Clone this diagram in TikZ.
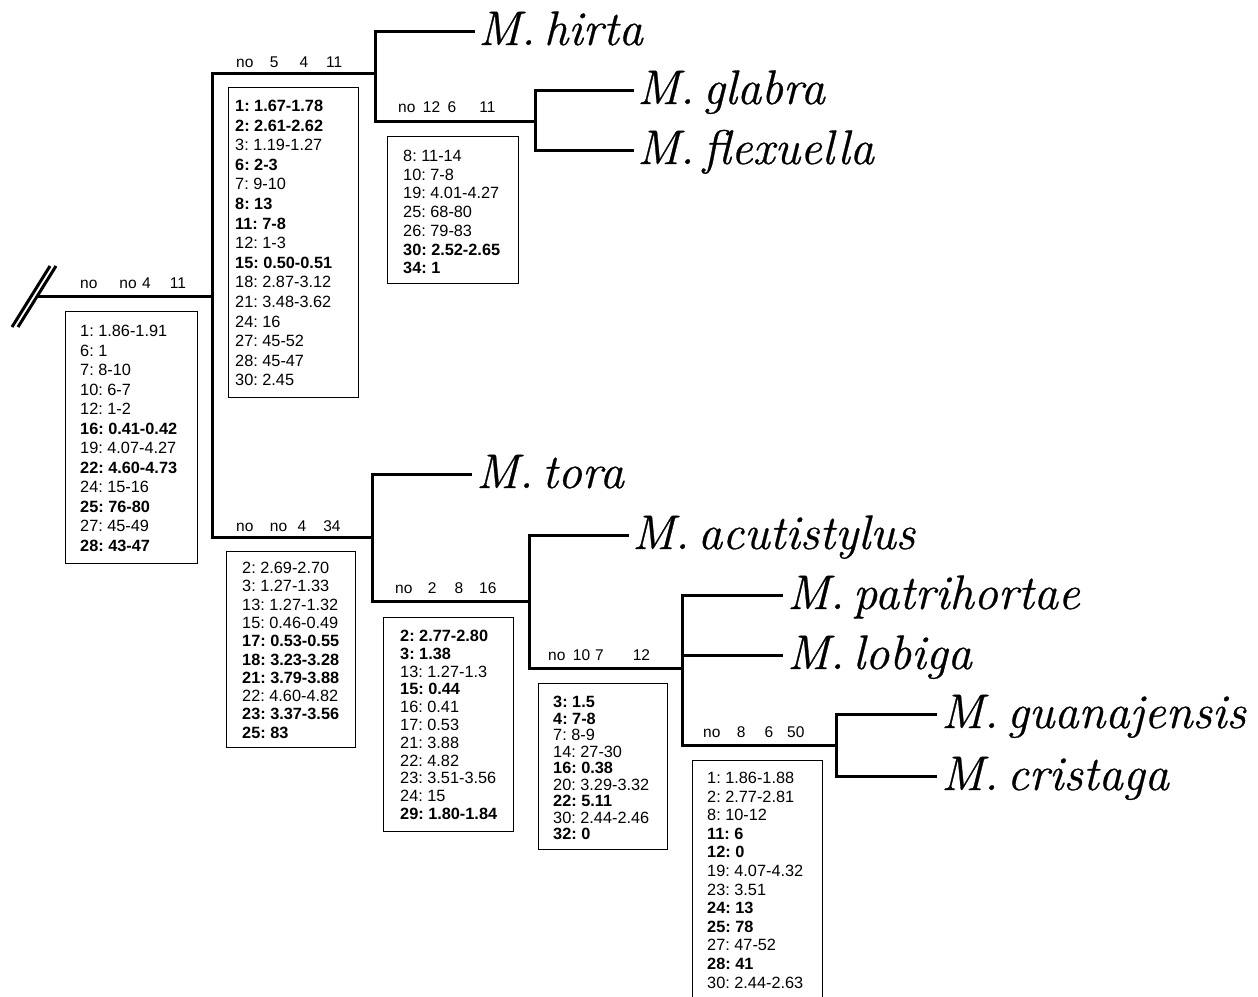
\documentclass[tikz,border=0pt]{standalone}
\usepackage{fontspec}
\newfontfamily\arialf{Liberation Sans}
\newfontfamily\taxf{Latin Modern Roman}[ItalicFeatures={FakeBold=0.6}]
\newcommand\tx[2]{#1.\hspace{0.18em}#2}
\frenchspacing
\begin{document}
\begin{tikzpicture}[x=1pt,y=-1pt,
  branch/.style={line width=3pt, line join=miter},
  box/.style={draw, line width=1.3pt, inner sep=0pt, anchor=north west},
  boxtext/.style={anchor=north west, inner sep=0pt, align=left, font=\arialf\frenchspacing\fontsize{16.3}{#1}\selectfont},
  lab/.style={anchor=base west, inner sep=0pt, font=\arialf\fontsize{15.5}{18}\selectfont},
  taxon/.style={anchor=base west, inner sep=0pt, font=\taxf\fontsize{48.5}{52}\selectfont\itshape}]
\useasboundingbox (0,0) rectangle (1258,996);

% slash marks
\draw[line width=3pt] (12,327) -- (50,266);
\draw[line width=3pt] (18,327) -- (56,266);

% tree junctions
\coordinate (s) at (37,296);
\coordinate (r) at (212,296);
\coordinate (A) at (375,73);
\coordinate (B) at (535,121);
\coordinate (C) at (372,537);
\coordinate (D) at (529,601);
\coordinate (E) at (682,668);
\coordinate (F) at (836,745);
% leaf ends
\coordinate (lhirta) at (475,31);
\coordinate (lglabra) at (634,90);
\coordinate (lflex) at (634,150);
\coordinate (ltora) at (472,474);
\coordinate (lacut) at (629,535);
\coordinate (lpatri) at (783,595);
\coordinate (llobi) at (783,655);
\coordinate (lguan) at (937,714);
\coordinate (lcris) at (937,776);

\draw[branch] (s) -- (r);
\draw[branch] (r) |- (A);
\draw[branch] (r) |- (C);
\draw[branch] (A) |- (lhirta);
\draw[branch] (A) |- (B);
\draw[branch] (B) |- (lglabra);
\draw[branch] (B) |- (lflex);
\draw[branch] (C) |- (ltora);
\draw[branch] (C) |- (D);
\draw[branch] (D) |- (lacut);
\draw[branch] (D) |- (E);
\draw[branch] (E) |- (lpatri);
\draw[branch] (E) |- (llobi);
\draw[branch] (E) |- (F);
\draw[branch] (F) |- (lguan);
\draw[branch] (F) |- (lcris);

% taxa
\node[taxon] (thirta) at (478,45) {\tx{M}{hirta}};
\node[taxon] (tglabra) at (637,104) {\tx{M}{glabra}};
\node[taxon] (tflex) at (637,164) {\tx{M}{flexuella}};
\node[taxon] (ttora) at (476,488) {\tx{M}{tora}};
\node[taxon] (tacut) at (632,549) {\tx{M}{acutistylus}};
\node[taxon] (tpatri) at (787,609) {\tx{M}{patrihortae}};
\node[taxon] (tlobi) at (787,669) {\tx{M}{lobiga}};
\node[taxon] (tguan) at (941,728) {\tx{M}{guanajensis}};
\node[taxon] (tcris) at (941,790) {\tx{M}{cristaga}};

% branch labels
\node[lab] (L1) at (80,288) {no\hspace{22pt}no\hspace{5.5pt}4\hspace{19pt}11};
\node[lab] (L2) at (236,67) {no\hspace{16.5pt}5\hspace{21pt}4\hspace{18pt}11};
\node[lab] (L3) at (398,112) {no\hspace{7.5pt}12\hspace{7.5pt}6\hspace{23pt}11};
\node[lab] (L4) at (236,531) {no\hspace{16.5pt}no\hspace{10.5pt}4\hspace{17pt}34};
\node[lab] (L5) at (395,593) {no\hspace{15.5pt}2\hspace{18pt}8\hspace{16pt}16};
\node[lab] (L6) at (548,660) {no\hspace{7.5pt}10\hspace{5pt}7\hspace{29pt}12};
\node[lab] (L7) at (703,737) {no\hspace{16.5pt}8\hspace{19pt}6\hspace{14pt}50};

% boxes
\node[box, minimum width=132, minimum height=252] (b1) at (65,311) {};
\node[boxtext=19.5] (t1) at (80,325) {1: 1.86-1.91\\6: 1\\7: 8-10\\10: 6-7\\12: 1-2\\\textbf{16: 0.41-0.42}\\19: 4.07-4.27\\\textbf{22: 4.60-4.73}\\24: 15-16\\\textbf{25: 76-80}\\27: 45-49\\\textbf{28: 43-47}};

\node[box, minimum width=130, minimum height=310] (b2) at (228,87) {};
\node[boxtext=19.6] (t2) at (235,100) {\textbf{1: 1.67-1.78}\\\textbf{2: 2.61-2.62}\\3: 1.19-1.27\\\textbf{6: 2-3}\\7: 9-10\\\textbf{8: 13}\\\textbf{11: 7-8}\\12: 1-3\\\textbf{15: 0.50-0.51}\\18: 2.87-3.12\\21: 3.48-3.62\\24: 16\\27: 45-52\\28: 45-47\\30: 2.45};

\node[box, minimum width=131, minimum height=147] (b3) at (387,136) {};
\node[boxtext=18.7] (t3) at (403,150) {8: 11-14\\10: 7-8\\19: 4.01-4.27\\25: 68-80\\26: 79-83\\\textbf{30: 2.52-2.65}\\\textbf{34: 1}};

\node[box, minimum width=129, minimum height=196] (b4) at (226,551) {};
\node[boxtext=18.3] (t4) at (242,562) {2: 2.69-2.70\\3: 1.27-1.33\\13: 1.27-1.32\\15: 0.46-0.49\\\textbf{17: 0.53-0.55}\\\textbf{18: 3.23-3.28}\\\textbf{21: 3.79-3.88}\\22: 4.60-4.82\\\textbf{23: 3.37-3.56}\\\textbf{25: 83}};

\node[box, minimum width=130, minimum height=214] (b5) at (383,617) {};
\node[boxtext=17.8] (t5) at (400,630) {\textbf{2: 2.77-2.80}\\\textbf{3: 1.38}\\13: 1.27-1.3\\\textbf{15: 0.44}\\16: 0.41\\17: 0.53\\21: 3.88\\22: 4.82\\23: 3.51-3.56\\24: 15\\\textbf{29: 1.80-1.84}};

\node[box, minimum width=129, minimum height=166] (b6) at (538,683) {};
\node[boxtext=16.5] (t6) at (553,696) {\textbf{3: 1.5}\\\textbf{4: 7-8}\\7: 8-9\\14: 27-30\\\textbf{16: 0.38}\\20: 3.29-3.32\\\textbf{22: 5.11}\\30: 2.44-2.46\\\textbf{32: 0}};

\node[box, minimum width=130, minimum height=250] (b7) at (692,760) {};
\node[boxtext=18.6] (t7) at (707,772) {1: 1.86-1.88\\2: 2.77-2.81\\8: 10-12\\\textbf{11: 6}\\\textbf{12: 0}\\19: 4.07-4.32\\23: 3.51\\\textbf{24: 13}\\\textbf{25: 78}\\27: 47-52\\\textbf{28: 41}\\30: 2.44-2.63};
\end{tikzpicture}
\end{document}
